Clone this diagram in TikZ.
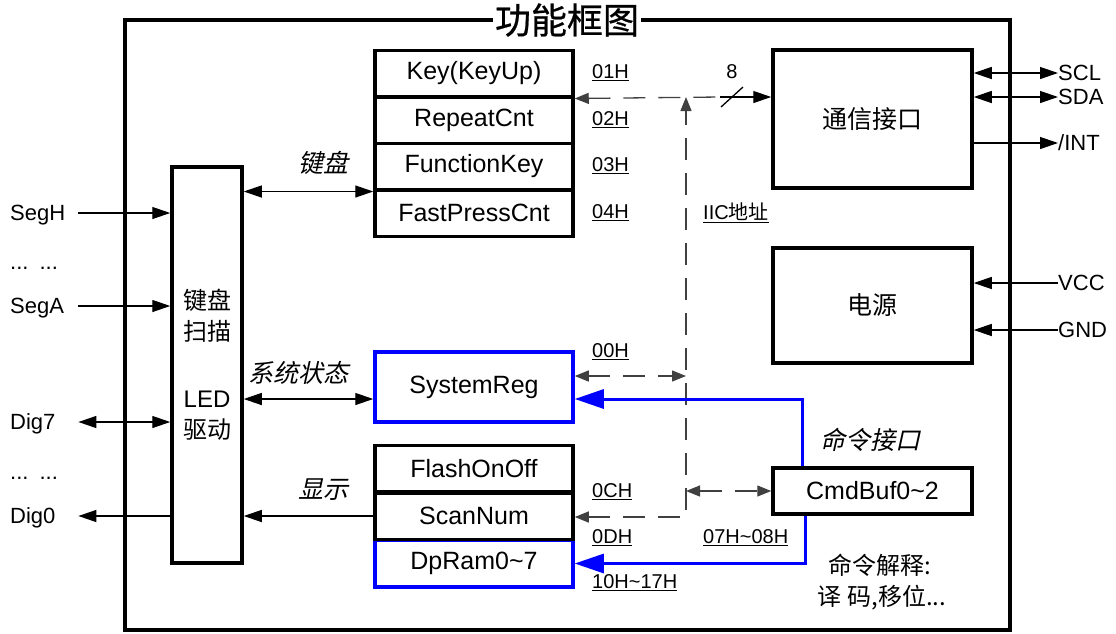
\documentclass[tikz,border=0pt]{standalone}
\usepackage{fontspec}
\setmainfont{Liberation Sans}
\newfontfamily\cjk{Noto Sans CJK SC}
\newfontfamily\cjkit[FakeSlant=0.22]{Noto Sans CJK SC}
\newfontfamily\cjktitle[FakeBold=0.6]{Noto Sans CJK SC}
\usetikzlibrary{arrows.meta, positioning}
\definecolor{regblue}{RGB}{0,0,255}

\tikzset{
  reg/.style={draw, line width=3.5pt, minimum width=198pt, minimum height=46.5pt, inner sep=0pt, font=\fontsize{25}{30}\selectfont},
  unit/.style={draw, line width=3.5pt, minimum width=199pt, inner sep=0pt, font=\cjk\fontsize{25}{30}\selectfont},
  sigl/.style={anchor=west, inner sep=0pt, text width=68pt, text height=15.8pt, text depth=0pt, font=\fontsize{22}{26}\selectfont},
  sigr/.style={anchor=west, inner sep=0pt, text height=15.8pt, text depth=0pt, font=\fontsize{22}{26}\selectfont},
  addr/.style={anchor=west, inner sep=0pt, font=\fontsize{20}{24}\selectfont},
  note/.style={inner sep=0pt, font=\cjkit\fontsize{25}{30}\selectfont},
  wire/.style={line width=1.3pt, >={Triangle[length=18pt,width=12pt]}},
  bus/.style={line width=1.3pt, black!75, dash pattern=on 22pt off 13pt, >={Triangle[length=14pt,width=11pt]}},
  cmdl/.style={line width=3pt, regblue, >={Triangle[length=29pt,width=19pt]}},
}

\begin{document}
\begin{tikzpicture}[x=1pt, y=-1pt]
    \useasboundingbox (0,0) rectangle (1116,633);

    % Outer frame and title
    \draw[line width=3.5pt] (125,20) rectangle (1010,630);
    \node[fill=white, inner sep=2pt, font=\cjktitle\fontsize{36}{40}\selectfont] at (567,20) (title) {功能框图};

    % Scan / LED driver block
    \node[draw, line width=3.5pt, minimum width=70pt, minimum height=396pt, inner sep=0pt, align=center, font=\fontsize{24}{31}\selectfont] at (207,365) (scan) {{\cjk 键盘}\\{\cjk 扫描}\\[36pt]LED\\{\cjk 驱动}};

    % Registers
    \node[reg] at (474,73.5) (key) {Key(KeyUp)};
    \node[reg] at (474,120) (rep) {RepeatCnt};
    \node[reg] at (474,166.5) (fkey) {FunctionKey};
    \node[reg] at (474,213) (fast) {FastPressCnt};
    \node[reg, draw=regblue, minimum height=70pt] at (474,387) (sysreg) {SystemReg};
    \node[reg] at (474,468.5) (flash) {FlashOnOff};
    \node[reg, draw=regblue] at (474,563.5) (dpram) {DpRam0\textasciitilde 7};
    \node[reg] at (474,516) (scannum) {ScanNum};

    % Right side units
    \node[unit, minimum height=138pt] at (872.5,119) (comm) {通信接口};
    \node[unit, minimum height=115pt] at (872.5,305.5) (power) {电源};
    \node[unit, minimum height=46pt, font=\fontsize{25}{30}\selectfont] at (872.5,491) (cmd) {CmdBuf0\textasciitilde 2};

    % Pins
    \node[sigl] at (10,213) (segh) {SegH};
    \node[sigl] at (10,262) (dotsa) {... ...};
    \node[sigl] at (10,306) (sega) {SegA};
    \node[sigl] at (10,422) (dig7) {Dig7};
    \node[sigl] at (10,472) (dotsb) {... ...};
    \node[sigl] at (10,516) (dig0) {Dig0};
    \node[sigr] at (1058,73) (scl) {SCL};
    \node[sigr] at (1058,97) (sda) {SDA};
    \node[sigr] at (1058,143) (int) {/INT};
    \node[sigr] at (1058,283) (vcc) {VCC};
    \node[sigr] at (1058,330) (gnd) {GND};

    \draw[wire,->] (segh.east) -- (segh.east -| scan.west);
    \draw[wire,->] (sega.east) -- (sega.east -| scan.west);
    \draw[wire,<->] (dig7.east) -- (dig7.east -| scan.west);
    \draw[wire,->] (dig0.east -| scan.west) -- (dig0.east);
    \draw[wire,<->] (comm.east |- scl.west) -- (scl.west);
    \draw[wire,<->] (comm.east |- sda.west) -- (sda.west);
    \draw[wire,->] (comm.east |- int.west) -- (int.west);
    \draw[wire,->] (vcc.west) -- (vcc.west -| power.east);
    \draw[wire,->] (gnd.west) -- (gnd.west -| power.east);

    % Block to registers
    \coordinate (sysin) at ([yshift=-12pt]sysreg.west);
    \draw[wire,<->] (scan.east |- fkey.south west) -- (fkey.south west);
    \draw[wire,<->] (scan.east |- sysin) -- (sysin);
    \draw[wire,->] (scannum.west) -- (scannum.west -| scan.east);
    \node[note] at (323,163) (lkey) {键盘};
    \node[note] at (298,373) (lstate) {系统状态};
    \node[note] at (323,490) (lshow) {显示};

    % IIC address bus
    \coordinate (bustop) at (686,97);
    \coordinate (busbot) at (686,517);
    \coordinate (slash) at (732,97);
    \coordinate (sysbus) at ([yshift=11pt]sysreg.east);
    \draw[bus,<->] (scannum.east |- busbot) -- (busbot) -- (bustop);
    \draw[bus,<-] (key.south east) -- ([xshift=-12pt]slash);
    \draw[wire,->] ([xshift=-12pt]slash) -- (comm.west |- slash);
    \draw[wire] ([shift={(-11pt,-10pt)}]slash) -- ([shift={(11pt,10pt)}]slash);
    \draw[bus,<->] (sysbus) -- (sysbus -| bustop);
    \draw[bus,<->] (cmd.west -| bustop) -- (cmd.west);
    \node[font=\fontsize{20}{24}\selectfont] at (732,72) (width) {8};

    % Command interface
    \coordinate (sysout) at ([yshift=-12pt]sysreg.east);
    \draw[cmdl,->] ([xshift=-70pt]cmd.north) |- (sysout);
    \draw[cmdl,->] ([xshift=-67pt]cmd.south) |- (dpram.east);
    \node[note] at (870,440) (lcmd) {命令接口};
    \node[inner sep=0pt, font=\cjk\fontsize{24}{28}\selectfont] at (880,565) (cmdnote) {命令解释:};
    \node[inner sep=0pt, font=\cjk\fontsize{24}{28}\selectfont] at (882,598) (cmdnoteb) {译 码,移位...};

    % Addresses
    \node[addr] at (592,73) (a01) {\underline{01H}};
    \node[addr] at (592,120) (a02) {\underline{02H}};
    \node[addr] at (592,166) (a03) {\underline{03H}};
    \node[addr] at (592,213) (a04) {\underline{04H}};
    \node[addr] at (592,352) (a00) {\underline{00H}};
    \node[addr] at (592,492) (a0c) {\underline{0CH}};
    \node[addr] at (592,538) (a0d) {\underline{0DH}};
    \node[addr] at (592,583) (a10) {\underline{10H\textasciitilde 17H}};
    \node[addr] at (703,538) (a07) {\underline{07H\textasciitilde 08H}};
    \node[addr] at (703,213) (aiic) {\underline{IIC{\cjk 地址}}};
\end{tikzpicture}
\end{document}
